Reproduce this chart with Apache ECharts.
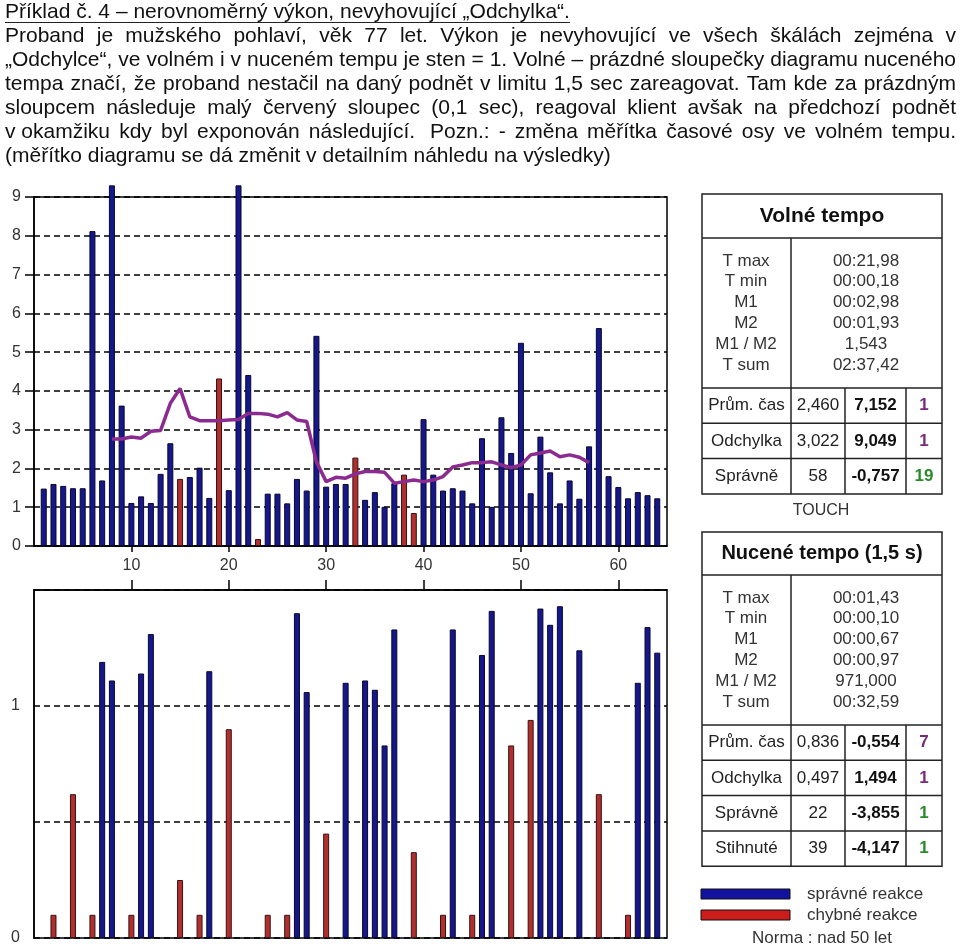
<!DOCTYPE html>
<html>
<head>
<meta charset="utf-8">
<title>Příklad č. 4</title>
<script src="https://cdn.jsdelivr.net/npm/echarts@6/dist/echarts.min.js"></script>
<style>
html, body { margin: 0; padding: 0; background: #fff; }
#chart { width: 960px; height: 952px; }
</style>
</head>
<body>
<div id="chart"></div>
<script>
// volné tempo - časy reakcí (s), podnět 1..64
const freeTimes = [
  1.48, 1.60, 1.55, 1.49, 1.49, 8.12, 1.69, 9.30, 3.62, 1.11,
  1.28, 1.11, 1.86, 2.65, 1.73, 1.78, 2.02, 1.24, 4.32, 1.44,
  9.30, 4.41, 0.18, 1.35, 1.35, 1.10, 1.73, 1.43, 5.42, 1.53,
  1.60, 1.60, 2.28, 1.19, 1.39, 1.01, 1.62, 1.84, 0.85, 3.27,
  1.84, 1.43, 1.49, 1.43, 1.10, 2.78, 1.01, 3.32, 2.40, 5.24,
  1.36, 2.82, 1.90, 1.10, 1.69, 1.22, 2.57, 5.62, 1.80, 1.52,
  1.23, 1.39, 1.31, 1.23
];
// chybné reakce ve volném tempu (čísla podnětů)
const freeErrors = [15, 19, 23, 33, 38, 39];
// klouzavý průměr (fialová čára)
const freeTrend = [
  null, null, null, null, null, null, null, 2.76, 2.76, 2.81,
  2.78, 2.96, 2.98, 3.68, 4.06, 3.33, 3.23, 3.23, 3.23, 3.25,
  3.26, 3.42, 3.42, 3.40, 3.33, 3.44, 3.25, 3.21, 2.17, 1.66,
  1.77, 1.75, 1.86, 1.92, 1.92, 1.90, 1.62, 1.66, 1.70, 1.66,
  1.70, 1.79, 2.04, 2.09, 2.15, 2.15, 2.17, 2.09, 2.02, 2.09,
  2.35, 2.40, 2.45, 2.30, 2.35, 2.29, 2.15, null, null, null,
  null, null, null, null
];
// nucené tempo (1,5 s) - null = nestihl
const forcedTimes = [
  null, 0.10, null, 0.62, null, 0.10, 1.19, 1.11, null, 0.10,
  1.14, 1.31, null, null, 0.25, null, 0.10, 1.15, null, 0.90,
  null, null, null, 0.10, null, 0.10, 1.40, 1.06, null, 0.45,
  null, 1.10, null, 1.11, 1.07, 0.83, 1.33, null, 0.37, null,
  null, 0.10, 1.33, null, 0.10, 1.22, 1.41, null, 0.83, null,
  0.94, 1.42, 1.35, 1.43, null, 1.24, null, 0.62, null, null,
  0.10, 1.10, 1.34, 1.23
];
const forcedErrors = [2, 4, 6, 10, 15, 17, 20, 24, 26, 30, 39, 42, 45, 49, 51, 58, 61];

const xTicks = [10, 20, 30, 40, 50, 60];
const forcedYLabels = [0, 1];

// tabulky
const freeTitle = 'Volné tempo';
const freeStatNames = ['T max', 'T min', 'M1', 'M2', 'M1 / M2', 'T sum'];
const freeStatValues = ['00:21,98', '00:00,18', '00:02,98', '00:01,93', '1,543', '02:37,42'];
const freeRowNames = ['Prům. čas', 'Odchylka', 'Správně'];
const freeRowRaw = ['2,460', '3,022', '58'];
const freeRowScore = ['7,152', '9,049', '-0,757'];
const freeRowSten = ['1', '1', '19'];

const forcedTitle = 'Nucené tempo (1,5 s)';
const forcedStatNames = ['T max', 'T min', 'M1', 'M2', 'M1 / M2', 'T sum'];
const forcedStatValues = ['00:01,43', '00:00,10', '00:00,67', '00:00,97', '971,000', '00:32,59'];
const forcedRowNames = ['Prům. čas', 'Odchylka', 'Správně', 'Stihnuté'];
const forcedRowRaw = ['0,836', '0,497', '22', '39'];
const forcedRowScore = ['-0,554', '1,494', '-3,855', '-4,147'];
const forcedRowSten = ['7', '1', '1', '1'];

const headerTitle = 'Příklad č. 4 – nerovnoměrný výkon, nevyhovující „Odchylka“.';
const headerLines = [
  'Proband je mužského pohlaví, věk 77 let. Výkon je nevyhovující ve všech škálách zejména v',
  '„Odchylce“, ve volném i v nuceném tempu je sten = 1. Volné – prázdné sloupečky diagramu nuceného',
  'tempa značí, že proband nestačil na daný podnět v limitu 1,5 sec zareagovat. Tam kde za prázdným',
  'sloupcem následuje malý červený sloupec (0,1 sec), reagoval klient avšak na předchozí podnět',
  'v\u00a0okamžiku kdy byl exponován následující.\u00a0 Pozn.: - změna měřítka časové osy ve volném tempu.'
];
const headerLast = '(měřítko diagramu se dá změnit v detailním náhledu na výsledky)';

const FONT = '"Liberation Sans", Arial, sans-serif';
const BLUE = '#17178c';
const RED = '#b03030';

// data pro grafy
const freeOk = [], freeBad = [], trend = [], forcedOk = [], forcedBad = [];
freeTimes.forEach(function (v, i) {
  const n = i + 1;
  if (freeErrors.indexOf(n) >= 0) freeBad.push([n, v]);
  else freeOk.push([n, v]);
  trend.push([n, freeTrend[i]]);
});
forcedTimes.forEach(function (v, i) {
  const n = i + 1;
  if (v === null) return;
  if (forcedErrors.indexOf(n) >= 0) forcedBad.push([n, v]);
  else forcedOk.push([n, v]);
});

// texty nahoře - do bloku
const measureCtx = document.createElement('canvas').getContext('2d');
function textWidth(s, size, weight) {
  measureCtx.font = (weight || 'normal') + ' ' + size + 'px ' + FONT;
  return measureCtx.measureText(s).width;
}
const graphics = [];
function addText(x, y, s, o) {
  const st = Object.assign({
    text: s, fill: '#222', fontSize: 17, fontFamily: FONT, fontWeight: 'normal',
    align: 'center', verticalAlign: 'middle'
  }, o || {});
  st.textAlign = st.align;
  st.textVerticalAlign = st.verticalAlign;
  graphics.push({ type: 'text', x: x, y: y, silent: true, style: st });
}
function addLine(x1, y1, x2, y2, w) {
  graphics.push({ type: 'line', silent: true, shape: { x1: x1, y1: y1, x2: x2, y2: y2 },
    style: { stroke: '#222', lineWidth: w || 1.5 } });
}

const HEAD_SIZE = 21, HEAD_LEFT = 5, HEAD_RIGHT = 956;
addText(HEAD_LEFT, 12, headerTitle, { fontSize: HEAD_SIZE, align: 'left', fill: '#111' });
addLine(HEAD_LEFT, 22.5, HEAD_LEFT + textWidth(headerTitle, HEAD_SIZE), 22.5, 1);
headerLines.forEach(function (line, k) {
  const words = line.split(' ').filter(function (w) { return w.length; });
  const widths = words.map(function (w) { return textWidth(w, HEAD_SIZE); });
  const total = widths.reduce(function (a, b) { return a + b; }, 0);
  const gap = (HEAD_RIGHT - HEAD_LEFT - total) / (words.length - 1);
  let x = HEAD_LEFT;
  words.forEach(function (w, j) {
    addText(x, 36 + 24 * k, w, { fontSize: HEAD_SIZE, align: 'left', fill: '#111' });
    x += widths[j] + gap;
  });
});
addText(HEAD_LEFT, 36 + 24 * headerLines.length, headerLast, { fontSize: HEAD_SIZE, align: 'left', fill: '#111' });

// tabulky vpravo
const TX0 = 702, TX1 = 942, C1 = 791, C2 = 845, C3 = 906;
function drawTable(top, titleBottom, title, titleSize, names, values, rowNames, raw, score, sten) {
  const statsBottom = titleBottom + 150;
  const rowH = 35.3;
  const bottom = statsBottom + rowH * rowNames.length;
  graphics.push({ type: 'rect', silent: true, shape: { x: TX0, y: top, width: TX1 - TX0, height: bottom - top },
    style: { fill: '#fff', stroke: '#222', lineWidth: 1.5 } });
  addLine(TX0, titleBottom, TX1, titleBottom);
  addLine(TX0, statsBottom, TX1, statsBottom);
  addLine(C1, titleBottom, C1, bottom);
  addLine(C2, statsBottom, C2, bottom);
  addLine(C3, statsBottom, C3, bottom);
  addText((TX0 + TX1) / 2, (top + titleBottom) / 2, title, { fontSize: titleSize, fontWeight: 'bold', fill: '#111' });
  names.forEach(function (s, k) {
    const y = titleBottom + 23 + 20.8 * k;
    addText(746, y, s, { fill: '#333' });
    addText(866, y, values[k], { fill: '#333' });
  });
  rowNames.forEach(function (s, k) {
    const y0 = statsBottom + rowH * k;
    if (k > 0) addLine(TX0, y0, TX1, y0);
    const y = y0 + rowH / 2;
    addText((TX0 + C1) / 2, y, s, { fill: '#222' });
    addText((C1 + C2) / 2, y, raw[k], { fill: '#222' });
    addText((C2 + C3) / 2, y, score[k], { fill: '#111', fontWeight: 'bold' });
    addText((C3 + TX1) / 2, y, sten[k], { fill: k < 2 ? '#7a2a7a' : '#2a8a2a', fontWeight: 'bold' });
  });
}
drawTable(194, 238, freeTitle, 21, freeStatNames, freeStatValues, freeRowNames, freeRowRaw, freeRowScore, freeRowSten);
addText(821, 511, 'TOUCH', { fontSize: 16, fill: '#333' });
drawTable(532, 575, forcedTitle, 20, forcedStatNames, forcedStatValues, forcedRowNames, forcedRowRaw, forcedRowScore, forcedRowSten);

// legenda
graphics.push({ type: 'rect', silent: true, shape: { x: 701, y: 889, width: 89, height: 10 },
  style: { fill: '#12129e', stroke: '#111', lineWidth: 1 } });
graphics.push({ type: 'rect', silent: true, shape: { x: 701, y: 910, width: 89, height: 10 },
  style: { fill: '#cc1c1c', stroke: '#111', lineWidth: 1 } });
addText(807, 894, 'správné reakce', { align: 'left', fill: '#333' });
addText(807, 915, 'chybné reakce', { align: 'left', fill: '#333' });
addText(822, 938, 'Norma : nad 50 let', { fill: '#333' });

const axisLine = { show: true, onZero: false, lineStyle: { color: '#000', width: 1.5 } };
const dashed = { show: true, lineStyle: { color: '#000', width: 1.5, type: [6, 4] } };
const labelStyle = { color: '#333', fontSize: 16, fontFamily: FONT };

function barSeries(data, color, border, xi) {
  return {
    type: 'bar', xAxisIndex: xi, yAxisIndex: xi, data: data,
    barWidth: 6, barGap: '-100%', clip: false,
    itemStyle: { color: color, borderColor: border, borderWidth: 1 }
  };
}

const chart = echarts.init(document.getElementById('chart'));
chart.setOption({
  animation: false,
  backgroundColor: '#fff',
  grid: [
    { left: 34, right: 293, top: 197, height: 349, show: true, borderColor: '#000', borderWidth: 1.5 },
    { left: 34, right: 293, top: 590, height: 348, show: true, borderColor: '#000', borderWidth: 1.5 }
  ],
  xAxis: [
    {
      gridIndex: 0, type: 'value', min: 0, max: 65, interval: 10,
      axisLine: axisLine,
      axisTick: { show: true, length: 6, customValues: xTicks, lineStyle: { color: '#000', width: 1.5 } },
      axisLabel: Object.assign({ margin: 12, customValues: xTicks }, labelStyle),
      splitLine: { show: false }
    },
    {
      gridIndex: 1, type: 'value', min: 0, max: 65, interval: 10, position: 'top',
      axisLine: axisLine,
      axisTick: { show: true, length: 10, customValues: xTicks, lineStyle: { color: '#000', width: 1.5 } },
      axisLabel: { show: false },
      splitLine: { show: false }
    }
  ],
  yAxis: [
    {
      gridIndex: 0, type: 'value', min: 0, max: 9, interval: 1,
      axisLine: axisLine,
      axisTick: { show: true, length: 9, lineStyle: { color: '#000', width: 1.5 } },
      axisLabel: Object.assign({ margin: 13 }, labelStyle),
      splitLine: dashed
    },
    {
      gridIndex: 1, type: 'value', min: 0, max: 1.5, interval: 0.5,
      axisLine: axisLine,
      axisTick: { show: false },
      axisLabel: Object.assign({ margin: 14, customValues: forcedYLabels }, labelStyle),
      splitLine: dashed
    }
  ],
  series: [
    barSeries(freeOk, BLUE, '#07072e', 0),
    barSeries(freeBad, RED, '#3a1010', 0),
    {
      type: 'line', xAxisIndex: 0, yAxisIndex: 0, data: trend,
      symbol: 'none', connectNulls: false, z: 5,
      lineStyle: { color: '#8b2b8f', width: 3.5 }
    },
    barSeries(forcedOk, BLUE, '#07072e', 1),
    barSeries(forcedBad, RED, '#3a1010', 1)
  ],
  graphic: graphics
});
</script>
</body>
</html>
